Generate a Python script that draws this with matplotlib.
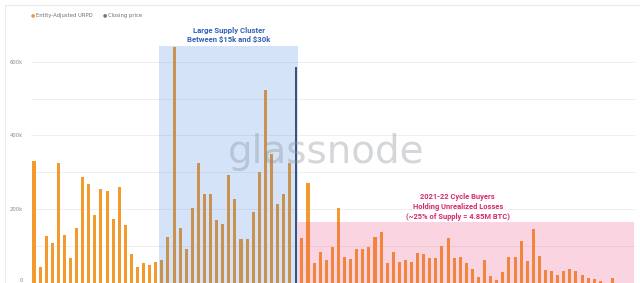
import matplotlib
matplotlib.use("Agg")
import matplotlib.pyplot as plt
from matplotlib.patches import Rectangle

# URPD buckets (index along price axis) and supply held in each, in thousands of BTC
urpd_k = [
    331, 43, 127, 107, 324, 128, 67, 148, 288, 269,
    183, 255, 249, 172, 261, 156, 77, 42, 52, 48,
    56, 61, 125, 640, 147, 92, 202, 324, 241, 241,
    170, 158, 293, 227, 118, 118, 191, 300, 524, 349,
    214, 240, 324, 0, 120, 270, 54, 84, 60, 97,
    204, 69, 65, 90, 90, 97, 125, 137, 53, 84,
    57, 61, 57, 79, 77, 66, 66, 99, 120, 66,
    70, 52, 37, 16, 61, 18, 7, 29, 70, 69,
    113, 59, 145, 73, 34, 31, 20, 31, 36, 31,
    20, 13, 10, 4, 0, 13,
]
closing_idx = 43
closing_k = 586

y_ticks = [0, 200, 400, 600]
y_tick_labels = ["0", "200k", "400k", "600k"]

cluster_span = (20.6, 43.3)
cluster_top_k = 644
loss_span = (43.3, 98.5)
loss_top_k = 165

ORANGE = "#F29A2E"
CLOSE = "#3E5278"

W, H = 640, 283
fig = plt.figure(figsize=(W / 100, H / 100), dpi=100)
fig.patch.set_facecolor("white")

ax_l, ax_r = 31, 635
ax_top, ax_bot = 25.2, 282.5
ax = fig.add_axes([ax_l / W, (H - ax_bot) / H, (ax_r - ax_l) / W, (ax_bot - ax_top) / H])
ax.set_facecolor("none")

x = list(range(len(urpd_k)))
ax.bar(x, urpd_k, width=0.5, color=ORANGE, zorder=2)
ax.bar([closing_idx], [closing_k], width=0.35, color=CLOSE, zorder=4)

# shaded regions drawn over the bars
ax.axvspan(cluster_span[0], cluster_span[1], ymin=0, ymax=cluster_top_k / 700,
           color=(40 / 255, 115 / 255, 215 / 255), alpha=0.2, lw=0, zorder=3)
ax.axvspan(loss_span[0], loss_span[1], ymin=0, ymax=loss_top_k / 700,
           color=(240 / 255, 60 / 255, 120 / 255), alpha=0.22, lw=0, zorder=3)

ax.set_xlim(-0.49, 98.7)
ax.set_ylim(0, 700)

ax.set_yticks(y_ticks)
ax.set_yticklabels(y_tick_labels)
ax.set_yticks([100, 300, 500], minor=True)
ax.tick_params(axis="y", which="both", length=0, labelsize=3.8, labelcolor="#8a8a8a", pad=6)
ax.get_yticklabels()[0].set_va("bottom")
ax.set_xticks([])
ax.grid(axis="y", which="both", color="#ececec", lw=0.6, zorder=0)
for s in ax.spines.values():
    s.set_visible(False)

ax.text(32.0, 674, "Large Supply Cluster\nBetween \\$15k and \\$30k", ha="center", va="center",
        fontsize=5.6, fontweight="bold", family=["Roboto", "DejaVu Sans"],
        color="#3361B5", linespacing=1.25, zorder=6)
ax.text(69.6, 206, "2021-22 Cycle Buyers\nHolding Unrealized Losses\n(~25% of Supply = 4.85M BTC)",
        ha="center", va="center", fontsize=5.4, fontweight="bold",
        family=["Roboto", "DejaVu Sans"], color="#D42A6E", linespacing=1.3, zorder=6)

# watermark
fig.text(326.5 / W, 1 - 163 / H, "glassnode", ha="center", va="baseline",
         fontsize=28, color="#8f949c", alpha=0.38, family=["DejaVu Sans"], zorder=10)

# legend
fig.text(33 / W, 1 - 15 / H, "\u25cf", ha="center", va="center", fontsize=3.5, color=ORANGE)
fig.text(36 / W, 1 - 15 / H, "Entity-Adjusted URPD", ha="left", va="center",
         fontsize=3.8, color="#6f6f6f")
fig.text(105 / W, 1 - 15 / H, "\u25cf", ha="center", va="center", fontsize=3.5, color="#6a7894")
fig.text(108 / W, 1 - 15 / H, "Closing price", ha="left", va="center",
         fontsize=3.8, color="#6f6f6f")

# card border
fig.patches.append(Rectangle((5 / W, -0.05), 1.1, 1 - 5 / H + 0.05, transform=fig.transFigure,
                             fill=False, ec="#ebebeb", lw=0.8))

fig.savefig("out.png", dpi=100)
